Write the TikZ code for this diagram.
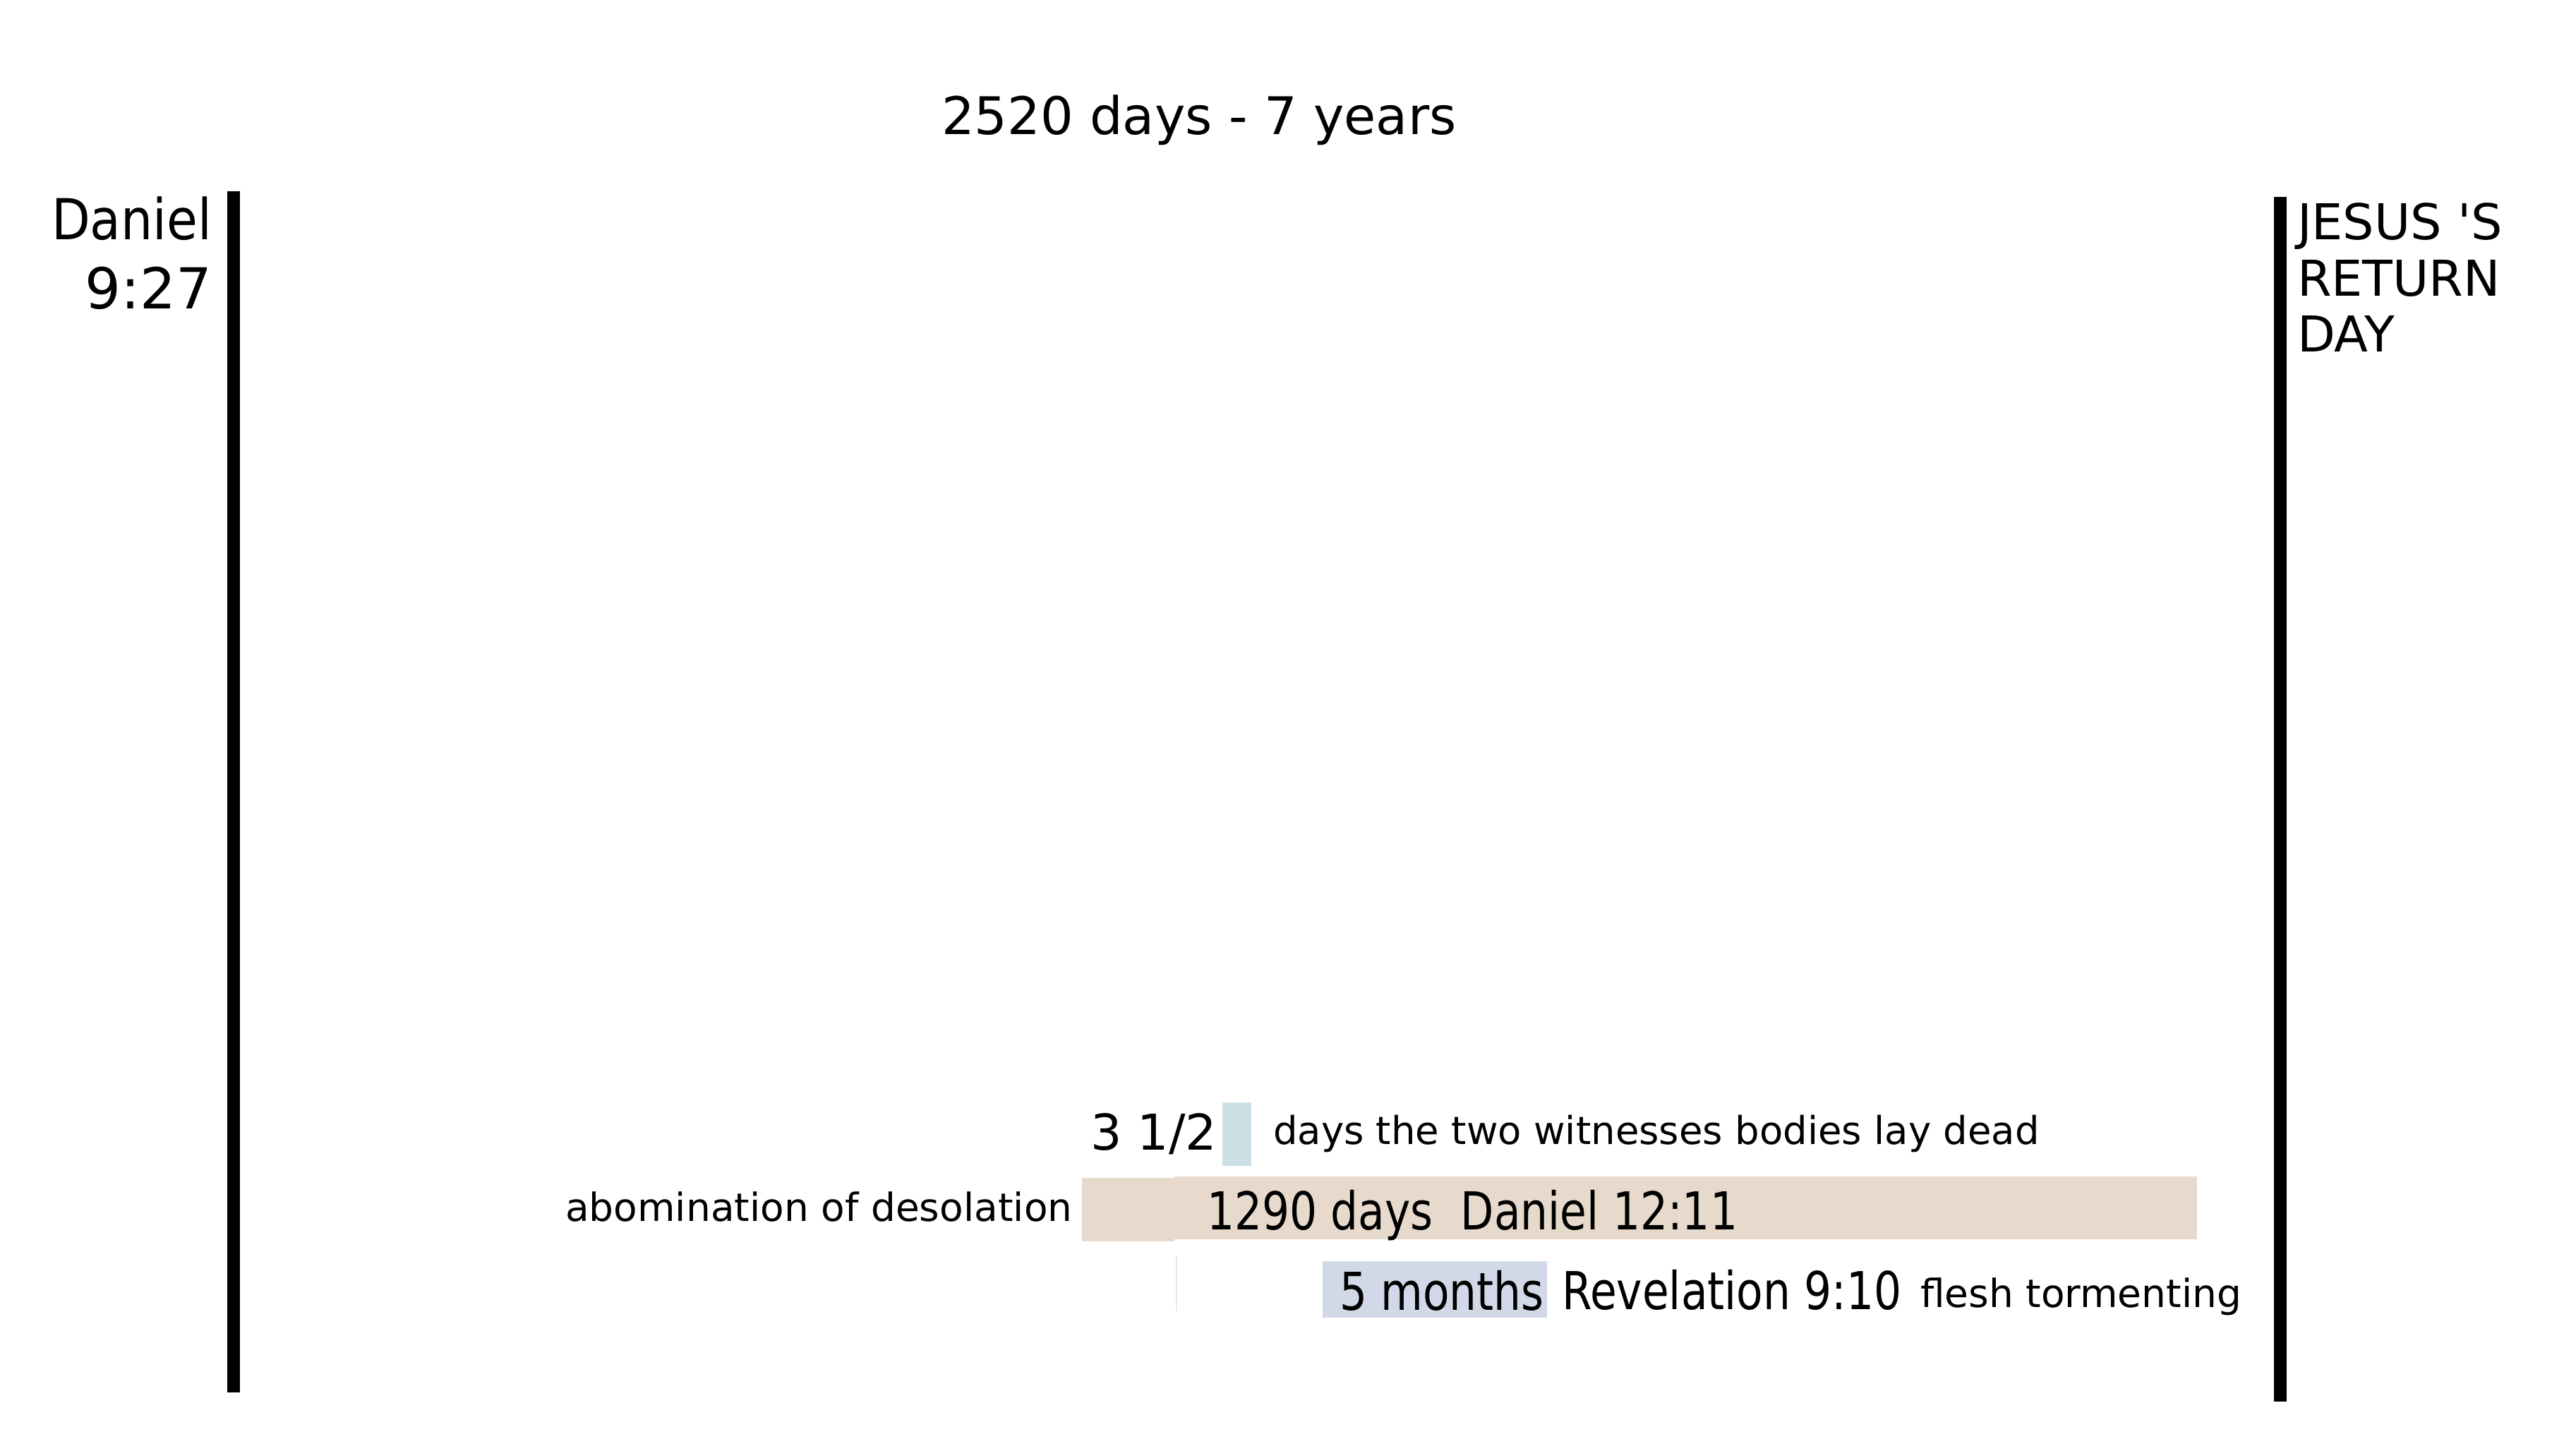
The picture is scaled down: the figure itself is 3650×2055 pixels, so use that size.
\documentclass[tikz,border=0pt]{standalone}
\usepackage{fontspec}
\setmainfont{DejaVu Sans}
\newfontfamily\narrowfont{DejaVu Sans}[FakeStretch=0.83]
\newfontfamily\danfont{DejaVu Sans}[FakeStretch=0.89]
\newfontfamily\jesfont{DejaVu Sans}[Ligatures=TeXOff]
\definecolor{tanfill}{RGB}{231,218,204}
\definecolor{paleblue}{RGB}{205,224,230}
\definecolor{lavblue}{RGB}{209,217,232}
\definecolor{faintline}{RGB}{232,234,238}
\tikzset{
  lbl/.style={inner sep=0pt, outer sep=0pt, anchor=base west, text=black},
  rlbl/.style={inner sep=0pt, outer sep=0pt, anchor=base east, text=black},
  bar/.style={fill=black},
}
\begin{document}
\begin{tikzpicture}[x=0.2pt,y=-0.2pt]
\useasboundingbox[fill=white] (0,0) rectangle (3650,2055);
% vertical bars
\fill[bar] (322,271) rectangle (340,1973);
\fill[bar] (3222,279) rectangle (3240,1986);
% coloured blocks
\fill[paleblue] (1732,1562) rectangle (1773,1652);
\fill[tanfill] (1533,1669) rectangle (1664,1759);
\fill[tanfill] (1664,1667) rectangle (3113,1756);
\fill[lavblue] (1874,1787) rectangle (2192,1867);
\draw[faintline, line width=0.4pt] (1667,1779) -- (1667,1858);
% title
\node[lbl, font=\fontsize{14.7}{17}\selectfont] (title) at (1334,190) {2520 days - 7 years};
% left labels
\node[rlbl, font=\danfont\fontsize{16}{19}\selectfont] (dan1) at (300,339) {Daniel};
\node[rlbl, font=\fontsize{16}{19}\selectfont] (dan2) at (300,437) {9:27};
% right labels
\node[lbl, font=\jesfont\fontsize{14}{16}\selectfont] (jes1) at (3255,339) {JESUS 'S};
\node[lbl, font=\fontsize{14}{16}\selectfont] (jes2) at (3255,419) {RETURN};
\node[lbl, font=\fontsize{14}{16}\selectfont] (jes3) at (3255,498) {DAY};
% bottom rows
\node[lbl, font=\fontsize{14}{17}\selectfont] (half) at (1545,1629) {3 1/2};
\node[lbl, font=\fontsize{10.9}{13}\selectfont] (wit) at (1804,1621) {days the two witnesses bodies lay dead};
\node[lbl, font=\fontsize{11}{13}\selectfont] (abom) at (801,1730) {abomination of desolation};
\node[lbl, font=\narrowfont\fontsize{14.8}{17}\selectfont] (d1290) at (1710,1742) {1290 days\ \ Daniel 12:11};
\node[lbl, font=\narrowfont\fontsize{14.8}{17}\selectfont] (five) at (1898,1856) {5 months};
\node[lbl, font=\narrowfont\fontsize{14.8}{17}\selectfont] (rev) at (2213,1855) {Revelation 9:10};
\node[lbl, font=\fontsize{11}{13}\selectfont] (flesh) at (2721,1852) {flesh tormenting};
\end{tikzpicture}
\end{document}
